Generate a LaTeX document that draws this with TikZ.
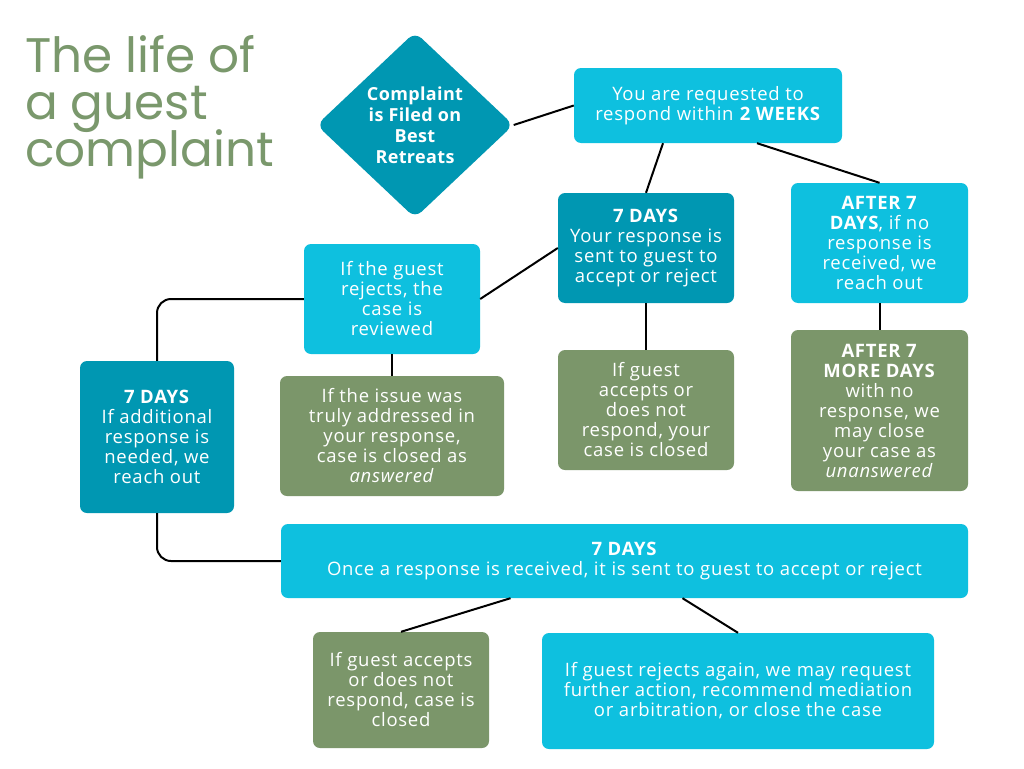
\documentclass[tikz,border=0pt]{standalone}
\usepackage{fontspec}
\setmainfont{Open Sans}[LetterSpace=4]
\newfontfamily\diafont{Open Sans}[LetterSpace=2]
\newfontfamily\titlefont{Poppins}
\usetikzlibrary{shapes.geometric}
\definecolor{lightc}{HTML}{0EC0DF}
\definecolor{darkc}{HTML}{0097B2}
\definecolor{greenc}{HTML}{7B966A}
\definecolor{titlec}{HTML}{7A986C}
\tikzset{
  box/.style={rounded corners=7, inner sep=0, align=center, text=white,
    font=\fontsize{18.5}{20}\selectfont},
  lbox/.style={box, fill=lightc},
  dbox/.style={box, fill=darkc},
  gbox/.style={box, fill=greenc},
  conn/.style={draw=black, line width=2},
  ttl/.style={anchor=base west, inner sep=0, text=titlec, font=\titlefont\fontsize{48.5}{48}\selectfont}
}
\begin{document}
\begin{tikzpicture}[x=1pt,y=-1pt]
\useasboundingbox[fill=white] (0,0) rectangle (1024,768);
\node[ttl] (t1) at (25,72) {The life of};
\node[ttl] (t2) at (25,119) {a guest};
\node[ttl] (t3) at (25,166) {complaint};

\node[diamond, fill=darkc, rounded corners=9, inner sep=0, minimum width=197, minimum height=186, align=center, text=white, font=\diafont\bfseries\fontsize{18}{21}\selectfont] (dia) at (415,125) {Complaint\\is Filed on\\Best\\Retreats};

\node[lbox, minimum width=268, minimum height=75] (req) at (708,105.5) {You are requested to\\respond within \textbf{2 WEEKS}};
\node[dbox, minimum width=176, minimum height=110] (d7a) at (646,248) {\textbf{7 DAYS}\\Your response is\\sent to guest to\\accept or reject};
\node[lbox, minimum width=177, minimum height=120] (after) at (879.5,243) {\textbf{AFTER 7}\\\textbf{DAYS}, if no\\response is\\received, we\\reach out};
\node[lbox, minimum width=176, minimum height=110] (rej) at (392,299) {If the guest\\rejects, the\\case is\\reviewed};
\node[dbox, minimum width=154, minimum height=152] (d7b) at (157,437) {\textbf{7 DAYS}\\If additional\\response is\\needed, we\\reach out};
\node[gbox, minimum width=224, minimum height=120] (issue) at (392,436) {If the issue was\\truly addressed in\\your response,\\case is closed as\\\textit{answered}};
\node[gbox, minimum width=176, minimum height=120] (acc1) at (646,410) {If guest\\accepts or\\does not\\respond, your\\case is closed};
\node[gbox, minimum width=177, minimum height=161] (more) at (879.5,410.5) {\textbf{AFTER 7}\\\textbf{MORE DAYS}\\with no\\response, we\\may close\\your case as\\\textit{unanswered}};
\node[lbox, minimum width=687, minimum height=74] (once) at (624.5,561) {\textbf{7 DAYS}\\Once a response is received, it is sent to guest to accept or reject};
\node[gbox, minimum width=176, minimum height=116] (acc2) at (401,690) {If guest accepts\\or does not\\respond, case is\\closed};
\node[lbox, minimum width=392, minimum height=116] (again) at (738,691) {If guest rejects again, we may request\\further action, recommend mediation\\or arbitration, or close the case};

\draw[conn] (dia.east) -- (req.west);
\draw[conn] ([xshift=-45]req.south) -- (d7a.north);
\draw[conn] ([xshift=49]req.south) -- (after.north);
\draw[conn] (d7a.west) -- (rej.east);
\draw[conn, rounded corners=14] (rej.west) -| (d7b.north);
\draw[conn] (rej.south) -- (issue.north);
\draw[conn] (d7a.south) -- (acc1.north);
\draw[conn] (after.south) -- (more.north);
\draw[conn, rounded corners=14] (d7b.south) |- (once.west);
\draw[conn] ([xshift=-114]once.south) -- (acc2.north);
\draw[conn] ([xshift=58]once.south) -- (again.north);
\end{tikzpicture}
\end{document}
